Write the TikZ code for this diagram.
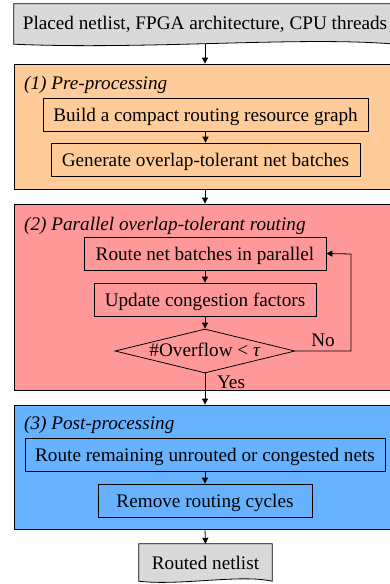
\documentclass[tikz,border=0pt]{standalone}
\usepackage{fontspec}
\setmainfont{Liberation Serif}
\usetikzlibrary{shapes.geometric,arrows.meta}
\definecolor{docgray}{RGB}{217,217,217}
\definecolor{preorange}{RGB}{255,204,153}
\definecolor{parpink}{RGB}{255,153,153}
\definecolor{postblue}{RGB}{102,178,255}
\newcommand{\diagfont}{\fontsize{19.2}{22}\selectfont}
\tikzset{
  stagebox/.style={draw, line width=0.8pt, minimum height=33pt, inner sep=0pt, align=center, text height=14.2pt, text depth=0pt},
  frame/.style={draw, line width=0.8pt, inner sep=0pt},
  title/.style={anchor=base west, inner sep=0pt, font=\diagfont\itshape},
  conn/.style={line width=0.8pt, -{Triangle[length=6pt,width=6pt]}},
  doctext/.style={inner sep=0pt},
  docshape/.style={draw, fill=docgray, line width=0.8pt},
  lbl/.style={inner sep=0pt, anchor=base}
}
\begin{document}
\begin{tikzpicture}[x=1pt,y=-1pt, font=\diagfont]
\useasboundingbox (0,0) rectangle (389,584);
% input document
\node[doctext, minimum width=382pt, minimum height=40pt] (inp) at (205,24) {};
\draw[docshape] (inp.north west) -- (inp.north east) -- (inp.south east)
  .. controls (300,36) and (150,50) .. (inp.south west) -- cycle;
\node[doctext, anchor=base] (intext) at (205,29) {Placed netlist, FPGA architecture, CPU threads};
% frames
\node[frame, fill=preorange, minimum width=382pt, minimum height=125pt] (f1) at (205,126.5) {};
\node[frame, fill=parpink, minimum width=382pt, minimum height=186pt] (f2) at (205,297) {};
\node[frame, fill=postblue, minimum width=382pt, minimum height=124pt] (f3) at (205,467) {};
\node[title] (t1) at (24,89) {(1) Pre-processing};
\node[title] (t2) at (24,230.5) {(2) Parallel overlap-tolerant routing};
\node[title] (t3) at (24,429.5) {(3) Post-processing};
% stage 1
\node[stagebox, minimum width=325pt] (b1) at (205.5,114.5) {Build a compact routing resource graph};
\node[stagebox, minimum width=309pt] (b2) at (205.5,159.5) {Generate overlap-tolerant net batches};
% stage 2
\node[stagebox, minimum width=242pt] (r1) at (205,253.5) {Route net batches in parallel};
\node[stagebox, minimum width=222pt] (r2) at (205,299.5) {Update congestion factors};
\node[diamond, draw, line width=0.8pt, minimum width=180pt, minimum height=44pt, inner sep=0pt, shape aspect=4, text height=11.4pt, text depth=0pt] (d) at (205,351) {\#Overflow < \textit{τ}};
\coordinate (nocorner) at (351,351);
\coordinate (notop) at (351,254);
% stage 3
\node[stagebox, minimum width=360pt] (p1) at (205,454.5) {Route remaining unrouted or congested nets};
\node[stagebox, minimum width=214pt] (p2) at (205,500.5) {Remove routing cycles};
% output document
\node[doctext, minimum width=133pt, minimum height=37pt] (out) at (205.5,562.5) {};
\draw[docshape] (out.north west) -- (out.north east) -- (out.south east)
  .. controls (240,574) and (180,586) .. (out.south west) -- cycle;
\node[doctext, anchor=base] (outtext) at (205.5,569) {Routed netlist};
% connectors
\draw[conn] (inp.south) -- (f1.north);
\draw[conn] (b1) -- (b2);
\draw[conn] (f1.south) -- (f2.north);
\draw[conn] (r1) -- (r2);
\draw[conn] (r2) -- (d);
\draw[conn] (d.east) -- (nocorner) -- (notop) -- (r1.east);
\draw[conn] (d.south) -- (f3.north);
\draw[conn] (p1) -- (p2);
\draw[conn] (f3.south) -- (out.north);
\node[lbl] (no) at (323,346.5) {No};
\node[lbl] (yes) at (231,388) {Yes};
\end{tikzpicture}
\end{document}
